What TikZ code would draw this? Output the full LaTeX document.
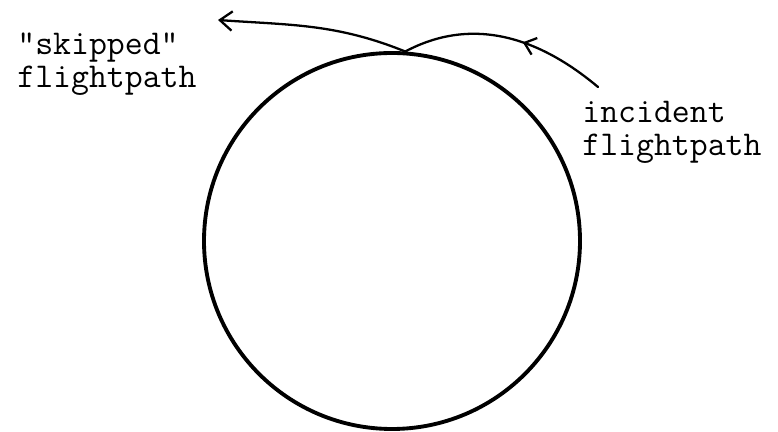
\documentclass[tikz,border=0pt]{standalone}
\usepackage{tikz}
\usetikzlibrary{arrows.meta, decorations.markings}

\begin{document}
\begin{tikzpicture}[
  body/.style={circle, draw=black, line width=2.2pt, inner sep=0pt, minimum size=7.52cm},
  fp/.style={black, line width=1.3pt, line cap=round},
  tip/.style={-{Straight Barb[length=7pt, width=11pt, line width=1.3pt]}},
  midtip/.style={postaction={decorate}, decoration={markings,
      mark=at position 0.42 with {\arrow{Straight Barb[length=6pt, width=10pt, line width=1.3pt]}}}},
  lbl/.style={font=\ttfamily\fontsize{19.8}{17}\selectfont, align=left, inner sep=0pt, anchor=north west},
]
  \useasboundingbox (0,0) rectangle (15.56,8.64);
  % the body
  \node[body] (planet) at (7.84,3.82) {};
  \coordinate (touch) at (planet.86);
  % flight paths
  \coordinate (inc) at (11.96,6.90);
  \coordinate (skip) at (4.36,8.24);
  \draw[fp, midtip] (inc) to[out=140, in=28] (touch);
  \draw[fp, tip] (touch) to[out=158, in=-4] (skip);
  % labels
  \node[lbl] (skiplbl) at (0.34,7.98) {"skipped"\\[1.5pt]flightpath};
  \node[lbl] (inclbl) at (11.64,6.62) {incident\\[1.5pt]flightpath};
\end{tikzpicture}
\end{document}
